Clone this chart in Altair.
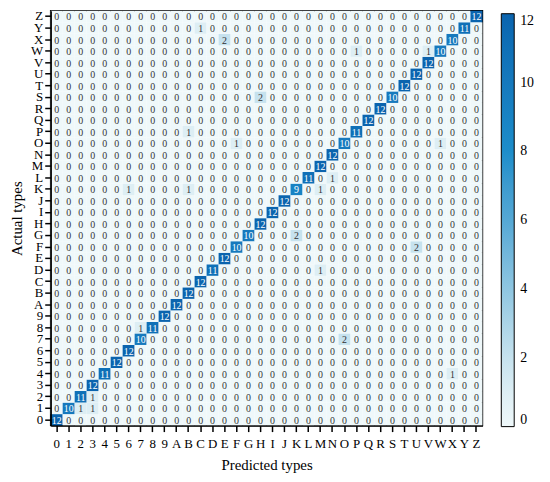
import altair as alt
import pandas as pd

labels = [str(i) for i in range(10)] + [chr(c) for c in range(ord("A"), ord("Z") + 1)]

# correct classifications (diagonal), in label order
diag = [12, 10, 11, 12, 11, 12, 12, 10, 11, 12,
        12, 12, 12, 11, 12, 10, 10, 12, 12, 12, 9, 11, 12,
        12, 10, 11, 12, 12, 10, 12, 12, 12, 10, 10, 11, 12]

# misclassifications
mis_actual = ["1", "1", "2", "4", "7", "8", "D", "F", "G", "K", "K", "K",
              "L", "O", "O", "P", "S", "W", "W", "X", "Y"]
mis_pred = ["2", "3", "3", "X", "O", "7", "M", "U", "K", "6", "B", "M",
            "N", "F", "W", "B", "H", "P", "V", "E", "C"]
mis_count = [1, 1, 1, 1, 2, 1, 1, 2, 2, 1, 1, 1,
             1, 1, 1, 1, 2, 1, 1, 2, 1]

cells = {(a, p): 0 for a in labels for p in labels}
for lab, v in zip(labels, diag):
    cells[(lab, lab)] = v
for a, p, v in zip(mis_actual, mis_pred, mis_count):
    cells[(a, p)] = v
df = pd.DataFrame([{"actual": a, "pred": p, "v": v} for (a, p), v in cells.items()])

color_domain = [0, 1, 2, 4, 6, 8, 10, 11, 12]
color_range = ["#eff8fa", "#ddeef4", "#c6e2ee", "#8fc6e1", "#55a8d5",
               "#1d8dca", "#1679bd", "#0f70b7", "#0b64ae"]

serif = "Liberation Serif"

base = alt.Chart(df).encode(
    x=alt.X("pred:N", sort=labels, title="Predicted types",
            scale=alt.Scale(paddingInner=0, paddingOuter=0),
            axis=alt.Axis(labelAngle=0, labelFontSize=13, titleFontSize=15,
                          tickSize=6, tickWidth=1.5, tickColor="black",
                          domainColor="black", domainWidth=1.5,
                          labelColor="black", titleColor="black",
                          labelPadding=6, titlePadding=7, titleFontWeight="normal",
                          labelFont=serif, titleFont=serif)),
    y=alt.Y("actual:N", sort=labels[::-1], title="Actual types",
            scale=alt.Scale(paddingInner=0, paddingOuter=0),
            axis=alt.Axis(labelFontSize=13, titleFontSize=15,
                          tickSize=6, tickWidth=1.5, tickColor="black",
                          domainColor="black", domainWidth=1.5,
                          labelColor="black", titleColor="black",
                          labelPadding=2, titlePadding=6, titleFontWeight="normal",
                          labelFont=serif, titleFont=serif)),
)

rects = base.mark_rect().encode(
    color=alt.Color("v:Q",
                    scale=alt.Scale(domain=color_domain, range=color_range, type="linear"),
                    legend=alt.Legend(title=None, orient="right", offset=16, padding=3,
                                      gradientLength=416, gradientThickness=13,
                                      gradientStrokeColor="black", gradientStrokeWidth=1,
                                      values=[0, 2, 4, 6, 8, 10, 12],
                                      labelFontSize=14, labelFont=serif,
                                      labelColor="black", labelOffset=6))
)

texts = base.mark_text(font=serif, fontSize=10, baseline="middle", dy=1).encode(
    text="v:Q",
    color=alt.condition(alt.datum.v >= 6, alt.value("white"), alt.value("#333333")),
)

chart = alt.layer(rects, texts).properties(
    width=435, height=418,
    autosize=alt.AutoSizeParams(type="none"),
    padding={"left": 43, "top": 1, "right": 60, "bottom": 50},
).configure_view(stroke="black", strokeWidth=1.5)

chart.save("out.html", embed_options={"renderer": "svg", "actions": False})
